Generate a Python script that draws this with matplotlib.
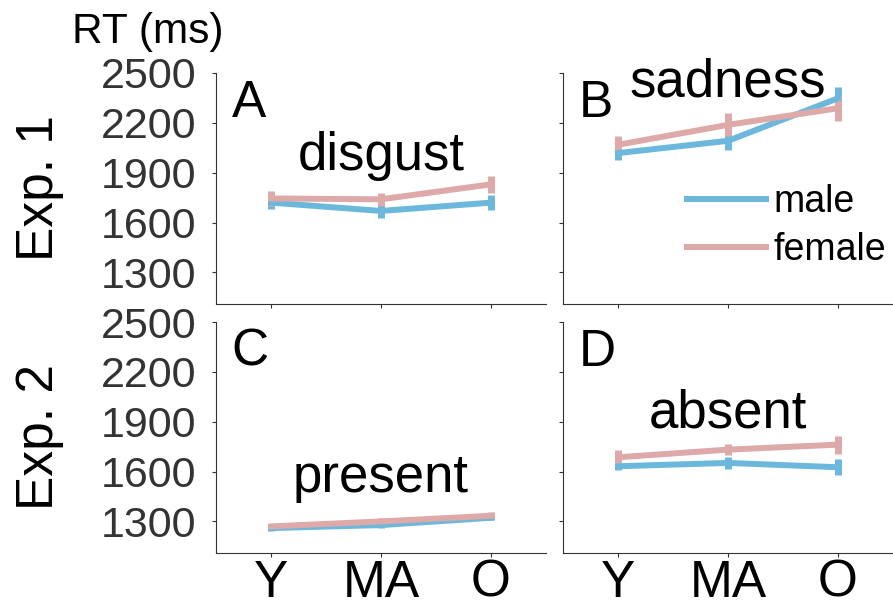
import matplotlib
matplotlib.use("Agg")
import matplotlib.pyplot as plt
from matplotlib.lines import Line2D

plt.rcParams['font.family'] = ['Liberation Sans', 'DejaVu Sans']

# age groups
groups = ['Y', 'MA', 'O']
xpos = [1, 2, 3]

# Exp. 1 - disgust
disgust_male = [1720, 1670, 1720]
disgust_male_err = [40, 40, 45]
disgust_female = [1745, 1740, 1830]
disgust_female_err = [45, 40, 52]

# Exp. 1 - sadness
sadness_male = [2018, 2092, 2348]
sadness_male_err = [40, 55, 70]
sadness_female = [2068, 2188, 2288]
sadness_female_err = [55, 70, 74]

# Exp. 2 - present
present_male = [1260, 1278, 1322]
present_male_err = [15, 18, 15]
present_female = [1270, 1300, 1334]
present_female_err = [15, 20, 20]

# Exp. 2 - absent
absent_male = [1632, 1652, 1626]
absent_male_err = [20, 35, 47]
absent_female = [1686, 1732, 1762]
absent_female_err = [45, 35, 54]

yticks = [1300, 1600, 1900, 2200, 2500]

c_male = '#6cb8dc'
c_female = '#dda9a9'

fig = plt.figure(figsize=(8.93, 6.10), dpi=100)

W = 330 / 893
H = 231 / 610
panels = [
    # left, bottom, letter, title, title y, male, male err, female, female err, show ylabels
    (216 / 893, 306 / 610, 'A', 'disgust', 0.58, disgust_male, disgust_male_err, disgust_female, disgust_female_err, True),
    (563 / 893, 306 / 610, 'B', 'sadness', 0.90, sadness_male, sadness_male_err, sadness_female, sadness_female_err, False),
    (216 / 893, 57 / 610, 'C', 'present', 0.264, present_male, present_male_err, present_female, present_female_err, True),
    (563 / 893, 57 / 610, 'D', 'absent', 0.544, absent_male, absent_male_err, absent_female, absent_female_err, False),
]

axes = []
for left, bottom, letter, title, ty, m, me, f, fe, showy in panels:
    ax = fig.add_axes([left, bottom, W, H])
    ax.errorbar(xpos, m, yerr=me, color=c_male, lw=4.3, elinewidth=5, capsize=0)
    ax.errorbar(xpos, f, yerr=fe, color=c_female, lw=4.3, elinewidth=5, capsize=0)
    ax.set_xlim(0.5, 3.5)
    ax.set_ylim(1110, 2500)
    ax.set_xticks(xpos)
    ax.set_yticks(yticks)
    for s in ['top', 'right']:
        ax.spines[s].set_visible(False)
    for s in ['left', 'bottom']:
        ax.spines[s].set_color('#333333')
        ax.spines[s].set_linewidth(0.8)
    ax.tick_params(direction='out', length=3, width=0.8, color='#333333')
    ax.tick_params(axis='y', labelsize=31, labelcolor='#333333', pad=11)
    ax.tick_params(axis='x', labelsize=37, labelcolor='black', pad=1)
    if not showy:
        ax.set_yticklabels([])
    if bottom > 0.4:
        ax.set_xticklabels([])
    else:
        ax.set_xticklabels(groups)
    ax.text(0.048, 0.81, letter, transform=ax.transAxes, fontsize=37, va='baseline', ha='left')
    ax.text(0.5, ty, title, transform=ax.transAxes, fontsize=38, va='baseline', ha='center')
    axes.append(ax)

handles = [Line2D([], [], color=c_male, lw=4.3), Line2D([], [], color=c_female, lw=4.3)]
axes[1].legend(handles, ['male', 'female'], frameon=False, fontsize=27,
               loc='upper left', bbox_to_anchor=(0.33, 0.585),
               handlelength=2.1, handletextpad=0.2, labelspacing=0.32, borderaxespad=0)

fig.text(148 / 893, 1 - 43 / 610, 'RT (ms)', fontsize=30.5, ha='center', va='baseline')
fig.text(53 / 893, 1 - 188 / 610, 'Exp. 1', fontsize=37, rotation=90, rotation_mode='anchor',
         ha='center', va='baseline')
fig.text(53 / 893, 1 - 437 / 610, 'Exp. 2', fontsize=37, rotation=90, rotation_mode='anchor',
         ha='center', va='baseline')

fig.savefig('out.png', dpi=100)
